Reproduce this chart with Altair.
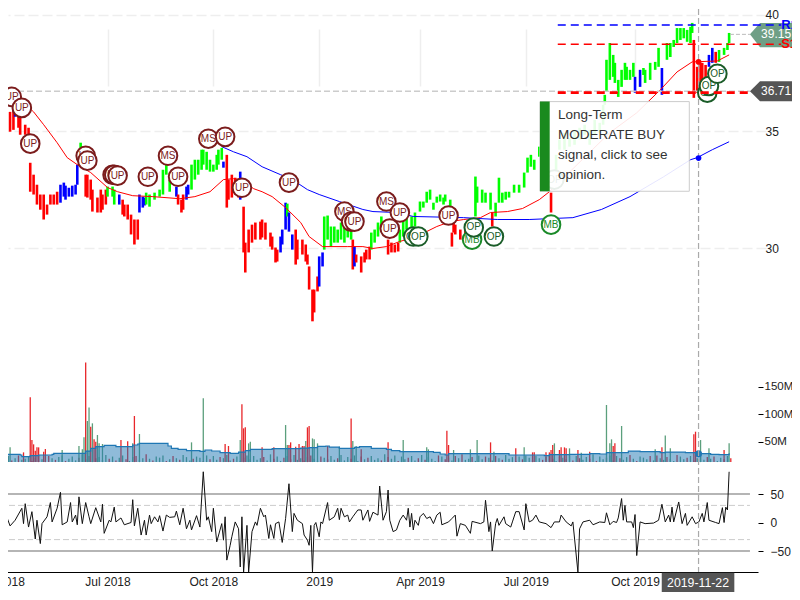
import altair as alt
import pandas as pd

FONT = "Liberation Sans"

# ---------- price bars: session, high, low, trend ----------
bar_rows = [
(1,35.7,34.85,"r"),(2,36.13,35.06,"r"),(4,35.83,35.06,"r"),(6,35.83,34.98,"r"),(8,35.92,35.06,"r"),(9,36.0,35.62,"b"),(11,36.35,35.15,"r"),(12,35.7,34.85,"r"),(15,35.28,34.85,"r"),(17,35.15,34.76,"r"),
(18,33.65,32.41,"r"),(20,33.14,32.29,"r"),(22,32.71,31.86,"r"),(24,32.29,31.64,"r"),(26,32.29,31.22,"r"),(28,31.86,31.43,"r"),(30,32.29,31.86,"r"),(32,32.29,31.86,"r"),(34,32.41,31.86,"r"),
(36,32.71,31.94,"b"),(38,32.8,32.2,"b"),(39,32.67,32.07,"b"),(41,32.58,32.2,"b"),(43,32.67,32.2,"b"),(45,32.71,32.29,"b"),(46,33.57,32.71,"b"),(48,34.51,33.65,"g"),
(51,33.14,32.2,"r"),(52,33.14,32.16,"r"),(54,32.93,32.07,"r"),(55,32.5,31.56,"r"),(58,32.16,31.52,"r"),(60,32.5,31.52,"r"),(61,32.29,31.64,"r"),(63,32.5,31.86,"r"),
(64,32.63,32.2,"g"),(67,32.63,32.2,"g"),(68,32.5,31.86,"g"),(71,32.29,31.86,"b"),
(73,32.07,31.43,"r"),(74,31.86,31.35,"r"),(76,31.86,31.22,"r"),(78,31.43,30.58,"r"),(80,31.22,30.15,"r"),(82,31.22,30.36,"r"),
(83,32.29,31.52,"b"),(85,32.2,31.73,"b"),(86,32.16,31.82,"b"),
(87,32.37,31.86,"g"),(89,32.29,31.77,"g"),(92,32.37,32.07,"g"),(95,32.5,32.2,"g"),(97,33.35,32.29,"g"),(99,33.57,33.14,"g"),(101,32.93,32.41,"g"),
(105,32.63,32.2,"b"),(106,32.29,31.86,"r"),(108,32.07,31.52,"r"),(109,32.29,31.64,"r"),(111,32.63,32.07,"b"),(112,32.71,32.29,"b"),
(114,33.57,32.5,"g"),(116,33.78,32.93,"g"),(118,33.78,33.14,"g"),(120,34.21,33.35,"g"),(121,34.21,33.57,"g"),(123,34.12,33.35,"g"),(125,33.78,33.27,"g"),(127,33.57,33.27,"g"),(129,33.99,33.35,"g"),(130,34.21,33.57,"g"),(132,34.29,33.78,"g"),
(133,33.7,33.44,"b"),(135,33.99,31.73,"r"),(136,32.93,32.07,"r"),(138,33.14,32.16,"r"),(140,33.01,32.29,"r"),(142,32.8,32.16,"r"),(143,33.27,32.07,"b"),
(145,31.77,29.81,"r"),(146,30.23,28.95,"r"),(148,30.79,29.81,"r"),(150,31.0,30.23,"r"),(152,31.09,30.36,"r"),(155,31.13,30.36,"r"),(156,31.22,30.45,"r"),(158,31.09,30.36,"r"),(161,30.66,30.06,"r"),(162,30.49,29.93,"r"),(164,30.02,29.38,"r"),(165,29.93,29.42,"r"),
(167,30.49,29.81,"b"),(168,30.79,30.15,"b"),(170,31.94,30.79,"b"),(171,31.9,31.35,"g"),(172,31.52,30.7,"b"),(174,30.58,29.93,"b"),
(176,30.79,29.29,"r"),(177,30.36,29.51,"r"),(180,30.36,29.72,"r"),(182,30.15,29.42,"r"),(183,29.72,29.29,"r"),(184,29.21,28.22,"r"),(186,28.22,26.86,"r"),(187,28.22,27.24,"r"),(189,28.78,28.14,"r"),
(190,29.64,28.35,"b"),(192,29.81,29.21,"b"),
(193,31.35,29.93,"g"),(195,31.39,30.36,"g"),(197,30.92,30.06,"g"),(199,30.92,30.23,"g"),(201,30.79,30.23,"g"),(203,31.09,30.36,"g"),(205,30.92,30.23,"g"),(207,30.79,30.45,"g"),(209,31.0,30.36,"g"),
(210,30.36,29.08,"r"),(211,30.06,29.21,"b"),(212,29.72,29.38,"r"),(215,29.64,28.95,"r"),(217,29.81,29.38,"r"),(218,29.93,29.51,"r"),(220,30.06,29.51,"r"),
(221,30.66,29.93,"g"),(223,30.79,30.23,"g"),(225,31.09,30.49,"g"),(227,31.35,30.79,"g"),
(231,30.36,29.72,"r"),(233,30.23,29.81,"r"),(235,30.15,29.81,"r"),(237,30.23,29.85,"r"),
(238,30.79,30.23,"g"),(240,31.22,30.49,"g"),(242,31.35,30.79,"g"),(245,31.35,30.79,"g"),(247,31.52,30.92,"g"),(250,31.99,31.56,"g"),(252,31.99,31.73,"g"),(254,32.41,31.94,"g"),(256,32.5,32.07,"g"),(258,31.94,31.64,"g"),(260,32.2,31.94,"g"),(262,32.29,31.99,"g"),(264,32.16,31.86,"g"),(265,32.29,31.99,"g"),(268,32.07,31.77,"g"),
(269,30.66,30.06,"r"),(270,31.09,30.66,"r"),(271,31.0,30.58,"r"),(274,30.79,30.36,"r"),(277,31.0,30.58,"r"),
(283,33.06,31.35,"g"),(284,32.63,31.94,"g"),(287,32.5,31.94,"g"),(289,32.37,31.94,"g"),(292,32.37,31.64,"g"),(293,31.52,30.92,"r"),(295,31.94,31.35,"g"),(297,33.01,31.94,"g"),(299,32.37,31.94,"g"),(301,32.41,32.07,"g"),(303,32.41,32.16,"g"),(306,32.71,32.37,"g"),(309,32.71,32.37,"g"),(312,33.23,32.59,"g"),(314,33.87,33.23,"g"),(316,33.99,33.48,"g"),(318,33.78,33.35,"g"),(321,34.34,33.91,"g"),(324,33.99,33.23,"g"),(326,34.21,33.35,"g"),(328,32.37,31.52,"r"),
(331,33.99,33.35,"g"),(333,34.64,34.21,"g"),(336,34.93,34.21,"g"),(339,34.72,34.34,"g"),(342,35.06,34.42,"g"),(345,35.15,34.64,"g"),(348,35.28,34.85,"g"),(351,35.06,34.42,"g"),(354,35.49,34.85,"g"),(357,35.36,34.94,"g"),(359,36.13,35.28,"g"),(360,36.56,36.13,"g"),(361,38.06,36.69,"g"),(363,38.78,37.2,"g"),(365,38.27,37.33,"g"),(366,37.93,37.07,"g"),(368,37.2,36.47,"g"),(370,37.63,36.9,"g"),(372,37.93,37.2,"g"),(373,37.76,37.2,"g"),(375,37.63,37.2,"g"),(377,37.93,37.33,"g"),
(378,37.33,36.65,"b"),(381,37.63,36.9,"b"),(383,37.71,37.41,"g"),(384,37.63,37.07,"g"),(387,37.93,37.2,"g"),(390,37.97,37.63,"g"),(392,38.57,37.76,"g"),(394,37.71,36.56,"b"),
(397,38.78,38.06,"g"),(399,38.78,38.18,"g"),(401,38.91,38.61,"g"),(403,39.42,38.78,"g"),(405,39.42,38.91,"g"),(407,39.42,38.98,"g"),(409,39.34,38.83,"g"),(411,39.47,38.78,"g"),(412,39.64,39.21,"g"),
(413,38.91,36.43,"r"),(415,37.76,36.65,"r"),(417,37.93,36.9,"r"),(418,37.93,36.77,"r"),(420,37.84,36.9,"r"),(422,38.27,37.76,"b"),(424,38.57,37.93,"b"),(426,38.4,37.93,"r"),(428,38.48,37.97,"g"),(431,38.57,38.27,"g"),(433,38.78,38.48,"g"),(434,39.21,38.78,"g"),
]
bar_s, bar_high, bar_low, bar_trend = map(list, zip(*bar_rows))

# ---------- moving averages ----------
ma50_rows = [(0,36.47),(12,36.35),(20,35.83),(26,35.28),(34,34.51),(40,33.87),(46,33.57),(54,33.23),(64,32.59),(70,32.41),(79,32.24),(91,32.2),(107,32.11),(116,32.2),(125,32.41),(133,32.93),(139,32.97),(143,32.93),(151,32.54),(156,32.41),(162,32.2),(170,31.73),(179,31.09),(184,30.49),(192,30.06),(207,30.06),(216,30.06),(222,29.98),(230,30.06),(238,30.28),(248,30.49),(260,30.92),(268,31.13),(276,31.22),(286,31.3),(292,31.52),(302,31.56),(311,31.69),(321,32.07),(327,32.41),(363,34.94),(379,35.79),(393,36.77),(403,37.54),(412,37.97),(427,38.01),(434,38.27)]
ma200_rows = [(132,34.34),(139,34.12),(147,33.91),(156,33.48),(167,33.14),(174,32.93),(183,32.5),(190,32.29),(202,31.99),(216,31.65),(222,31.56),(236,31.52),(246,31.35),(276,31.3),(296,31.22),(315,31.22),(341,31.3),(358,31.65),(375,32.2),(395,33.05),(411,33.78),(415,33.87),(424,34.21),(434,34.55)]

# ---------- signal markers ----------
sig_rows = [(2,36.47,"UP"),(7,36.47,"UP"),(13,36.0,"UP"),(18,34.47,"UP"),(51,33.95,"UP"),(52,33.74,"UP"),(67,33.14,"UP"),(68,33.14,"UP"),(70,33.1,"UP"),(88,33.05,"UP"),(100,33.95,"MS"),(106,33.05,"UP"),(124,34.68,"MS"),(134,34.76,"UP"),(144,32.58,"UP"),(172,32.8,"UP"),(205,31.56,"MS"),(209,31.13,"UP"),(211,31.13,"UP"),(230,31.99,"MS"),(238,31.52,"UP"),(232,30.83,"UP"),(267,31.39,"UP"),(246,30.49,"OP"),(249,30.49,"OP"),(281,30.36,"MB"),(282,30.88,"OP"),(294,30.49,"OP"),(330,32.93,"OP"),(328,31.0,"MB"),(421,36.65,"OP"),(422,36.94,"OP"),(427,37.46,"OP")]

# ---------- volume (millions) ----------
spike_rows = [(6,39.7,"g"),(14,30.6,"r"),(18,130.6,"r"),(19,53,"r"),(20,45.2,"r"),(21,33.7,"r"),(22,39.7,"r"),(23,39.7,"r"),(26,31.9,"r"),(27,36.7,"r"),(37,34.9,"g"),(47,42.2,"g"),(49,36.1,"g"),(50,57.9,"g"),(51,194,"r"),(52,87.6,"g"),(53,112.4,"g"),(54,77.3,"r"),(55,83.4,"g"),(56,54.3,"r"),(57,50,"r"),(58,62.2,"g"),(59,47,"g"),(61,45.8,"g"),(72,53,"r"),(76,50.6,"r"),(79,47,"g"),(80,96.7,"r"),(83,64,"g"),(114,48.8,"g"),(121,128.8,"g"),(134,45.8,"r"),(136,42.2,"r"),(143,53,"g"),(144,118,"r"),(145,74.3,"r"),(146,76.1,"r"),(148,47,"g"),(149,50,"g"),(156,39.7,"r"),(163,39.7,"r"),(170,80.3,"g"),(171,44,"g"),(172,44,"r"),(173,48.8,"r"),(176,41,"r"),(178,45.8,"r"),(180,42.2,"r"),(181,42.2,"r"),(182,51.2,"g"),(183,76.1,"r"),(184,78.5,"r"),(186,56,"g"),(187,54.3,"g"),(189,47,"g"),(195,42.2,"r"),(202,41,"g"),(209,92.4,"r"),(210,51.2,"g"),(212,42.2,"g"),(215,36.1,"r"),(231,48.8,"r"),(240,53,"g"),(254,39.7,"g"),(255,36.1,"g"),(266,70,"r"),(267,44,"r"),(270,34.9,"g"),(280,36.1,"g"),(284,53,"g"),(292,48.8,"r"),(294,31.9,"g"),(307,37.9,"r"),(312,39.7,"g"),(317,30.6,"r"),(318,30.6,"r"),(325,30.6,"r"),(327,30.6,"r"),(328,34.9,"r"),(329,44,"r"),(330,47,"g"),(333,34.9,"r"),(334,39.7,"r"),(336,39.7,"r"),(337,37.9,"r"),(339,37.9,"g"),(344,34.9,"r"),(346,30,"g"),(351,31.9,"r"),(361,116.7,"g"),(363,47,"g"),(364,54.3,"g"),(365,42.2,"r"),(366,47,"r"),(370,78.5,"g"),(390,36.1,"g"),(394,39.7,"r"),(396,61.5,"g"),(399,37.9,"g"),(413,63.4,"r"),(414,68.2,"r"),(417,53,"g"),(422,37.9,"g"),(431,34.9,"r"),(434,47,"g")]
low_v = [22,18,24,16,20,25,17,19,23,15,21,26,18,16,24,20,17,22,25,15,
         19,23,16,21,27,18,24,15,20,22,17,26,19,23,16,21,25,18,15,22,
         24,17,20,27,19,16,23,21,25,15,18,24,20,17,26,22,16,19,23,21,
         15,25,18,24,17,22,20,26,16,19,23,15,21,25,18,24,17,20,22,16,
         27,19,23,15,21,24,18,26,17,20,16,22,25,19,15,23,21,18,24,17,
         20,26,16,22,19,25,15,23,18,21,24,17,20,16,27,22,19,25,15,23,
         18,21,24,16,20,26,17,22,19,15,25,23,18,21,16,24,20,27,17,19,
         22,15,25,18,23,21,16,24,20,17,26,19,22,15,23,18,25,21,16,24,
         20,17,22,26,19,15,23,21,18,25,16,24,20,17,22,19,27,15,23,18,
         21,25,16,24,20,17,22,26,19,15,23,21,18,24,16,25,20,17,22,19,
         15,26,23,18,21,24,16,20,25,17,22,19,23,15,21,18,24,20]
low_dir = ("rggrgrgggrgrggrgrggrgggrggrgrgggrgrggrgg"
           "rggrgrgggrgrgrgggrggrgrggrgggrggrgrgggrg"
           "grggrgrgggrgrggrgrggrgggrggrgrgggrgrggrg"
           "grggrgrgggrgrggrgrggrgggrggrgrgggrgrggrg"
           "grggrgrgggrgrggrgrggrgggrggrgrgggrgrggrg"
           "grggrgrgggrgrggrgrgg")
volma_rows = [(0,27),(12,25.8),(13,22.8),(17,22.8),(18,24.6),(23,25.8),(31,27),(32,28.8),(49,28.8),(51,33),(54,37.9),(57,41),(62,43.4),(68,43.4),(69,41),(76,41),(79,44),(82,45.8),(83,47),(97,47),(100,42.2),(102,37.9),(106,36.1),(111,33.7),(119,32.5),(122,34.9),(126,33.1),(131,30),(137,28.8),(142,31.2),(146,33.7),(149,36.1),(161,36.1),(162,37.3),(169,37.3),(179,38.5),(184,39.1),(189,41.5),(194,42.2),(196,40.3),(202,37.9),(208,37.9),(211,39.7),(214,41),(221,37.9),(230,36.1),(233,33.7),(238,31.9),(258,30.6),(262,27.6),(265,25.8),(267,28.2),(298,28.2),(303,25.8),(318,25.8),(324,24.6),(327,26.4),(339,27),(351,28.2),(357,27.6),(361,30),(374,33),(381,31.9),(393,30),(396,31.2),(408,30),(414,28.2),(423,27),(428,26.4),(434,28.8)]

# ---------- oscillator ----------
osc_rows = [(0,1),(2,-28),(4,10),(6,-6),(9,4),(13,25),(14,-2),(15,33),(17,-8),(19,19),(21,-29),(22,4),(24,-37),(25,-2),(28,10),(30,35),(31,1),(34,25),(36,53),(37,-4),(40,1),(42,35),(43,1),(45,13),(46,-4),(47,45),(49,-2),(51,35),(53,10),(54,-2),(57,26),(60,1),(61,32),(62,-19),(65,4),(66,1),(68,27),(69,1),(72,8),(74,-4),(78,0),(79,40),(80,-6),(82,25),(84,-22),(86,4),(87,-22),(89,13),(90,-2),(92,10),(94,1),(95,12),(97,-15),(99,13),(101,9),(104,10),(105,20),(107,-4),(109,25),(111,-11),(113,4),(114,-13),(117,12),(119,-8),(121,89),(123,4),(124,10),(126,-16),(127,25),(129,-34),(132,-2),(133,-31),(134,10),(135,-66),(137,-40),(138,-25),(140,1),(142,-11),(143,-78),(144,10),(145,-87),(147,-5),(148,-87),(150,-16),(152,1),(153,-5),(155,25),(157,10),(158,13),(160,-28),(161,-4),(163,-28),(164,-2),(166,1),(168,-35),(170,7),(172,68),(174,-16),(175,16),(177,4),(180,-2),(181,-22),(183,-31),(184,-40),(185,-5),(186,-87),(187,-5),(188,0),(190,-25),(191,1),(192,-2),(195,35),(196,4),(199,10),(201,25),(202,5),(203,25),(205,10),(207,13),(208,1),(210,10),(213,22),(215,22),(216,4),(219,22),(220,2),(222,18),(225,13),(226,64),(228,4),(230,19),(231,57),(232,4),(234,-16),(236,-13),(238,4),(240,13),(242,4),(243,25),(244,-8),(245,16),(246,-13),(247,4),(249,-5),(250,10),(252,16),(254,7),(256,10),(258,-2),(260,13),(262,18),(263,-4),(267,1),(269,7),(271,13),(272,-24),(274,-2),(277,-5),(280,-19),(281,2),(286,-2),(288,1),(289,39),(291,-16),(292,1),(293,-50),(295,-2),(296,7),(297,-5),(300,10),(301,-2),(304,-8),(305,1),(307,19),(309,19),(312,-13),(313,33),(315,1),(317,4),(319,13),(321,1),(325,-2),(328,-9),(330,1),(333,1),(334,13),(337,1),(340,-6),(341,1),(344,-87),(345,-11),(347,1),(351,4),(353,-4),(357,1),(360,0),(361,17),(363,-4),(365,2),(367,0),(368,8),(370,42),(371,4),(372,30),(373,1),(376,1),(377,-9),(378,14),(379,-58),(381,1),(384,-2),(389,-1),(392,4),(394,32),(396,1),(398,13),(399,1),(400,27),(401,1),(404,36),(406,-2),(408,16),(409,-5),(412,10),(414,-2),(416,1),(418,16),(419,1),(421,35),(422,4),(426,0),(428,-2),(430,26),(431,0),(432,27),(433,22),(434,89)]

# ---------- texts, levels, ticks ----------
quarter_s = [0,64,127,190,250,313,378]
quarter_t = ["Apr 2018","Jul 2018","Oct 2018","2019","Apr 2019","Jul 2019","Oct 2019"]
advice_lines = ["Long-Term","MODERATE BUY","signal, click to see","opinion."]
price_ticks = [30,35,40]
vol_ticks = [50,100,150]
osc_ticks = [-50,0,50]
cursor_s = 415.8
last_close = 39.15
ref_close = 36.71
res_level = 39.55
sup_level = 38.73
sup2_level = 36.65
VOL_FLOOR = 13

RED, GREEN, BLUE = "#ff0000", "#00ff00", "#0000ff"
MAROON = "#7b1c1c"

X_SCALE = alt.Scale(domain=[0, 451.19], range=[-8, 750], nice=False, zero=False)
P_SCALE = alt.Scale(domain=[30, 40], range=[240, 6.5], nice=False, zero=False)
V_SCALE = alt.Scale(domain=[50, 150], range=[433.7, 378.7], nice=False, zero=False)
O_SCALE = alt.Scale(domain=[-50, 50], range=[543, 486], nice=False, zero=False)

label_expr = " : ".join(f"datum.value == {s} ? '{t}'" for s, t in zip(quarter_s, quarter_t)) + " : ''"
x_axis = alt.Axis(values=quarter_s, labelExpr=label_expr, grid=True, gridColor="#eeeeee", gridWidth=1.5,
                  ticks=False, domain=True, domainColor="#000000", domainWidth=1.2, labelFontSize=12,
                  labelColor="#222222", labelFont=FONT, labelPadding=4, labelOverlap=False, labelFlush=False,
                  labelBound=False)
vol_axis = alt.Axis(orient="right", values=vol_ticks, labelExpr="datum.value + 'M'", grid=False, domain=False,
                    tickSize=5, tickColor="#000000", labelFontSize=11.5, labelColor="#222222", labelFont=FONT,
                    labelPadding=1)
osc_axis = alt.Axis(orient="right", values=osc_ticks, grid=False, domain=False, tickSize=5, tickColor="#000000",
                    labelFontSize=12, labelColor="#222222", labelFont=FONT, labelPadding=7)
price_axis = alt.Axis(orient="right", values=price_ticks, grid=True, gridColor="#eeeeee", gridWidth=1.5,
                      gridDash=[10, 4], domain=False, ticks=False, labelFontSize=12, labelColor="#222222",
                      labelFont=FONT, labelPadding=7)


def X(f="s"):
    return alt.X(f"{f}:Q", scale=X_SCALE, axis=x_axis, title=None)


def PY(f="v"):
    return alt.Y(f"{f}:Q", scale=P_SCALE, axis=price_axis, title=None)


def VY(f="v"):
    return alt.Y(f"{f}:Q", scale=V_SCALE, axis=vol_axis, title=None)


def OY(f="v"):
    return alt.Y(f"{f}:Q", scale=O_SCALE, axis=osc_axis, title=None)


# --- volume panel ---
spikes = pd.DataFrame(spike_rows, columns=["s", "v", "d"])
spikes["b"] = VOL_FLOOR
lows = pd.DataFrame([(s, v, d, VOL_FLOOR) for s, v, d in zip(range(1, 436, 2), low_v, low_dir)],
                    columns=["s", "v", "d", "b"])
vol_bars = pd.concat([lows, spikes])
vol_color = alt.Color("d:N", scale=alt.Scale(domain=["r", "g"], range=["#e8262a", "#5b9f7c"]), legend=None)
vol_rules = alt.Chart(vol_bars).mark_rule(strokeWidth=1.3).encode(
    x=X(), y=VY(), y2="b:Q", color=vol_color)
volma = pd.DataFrame(volma_rows, columns=["s", "v"])
volma["b"] = VOL_FLOOR
vol_area = alt.Chart(volma).mark_area(color="#1f77b4", opacity=0.5, interpolate="step-after").encode(
    x=X(), y=VY(), y2="b:Q")
vol_line = alt.Chart(volma).mark_line(color="#1f77b4", strokeWidth=1.2, interpolate="step-after").encode(
    x=X(), y=VY())
vol_dot = alt.Chart(pd.DataFrame({"s": [cursor_s], "v": [28.2]})).mark_circle(color="#1f77b4", size=50, opacity=1).encode(
    x=X(), y=VY())
vol_panel = alt.layer(vol_rules, vol_area, vol_line, vol_dot)

# --- oscillator panel ---
solid_lvl = alt.Chart(pd.DataFrame({"v": [50, -50], "s": 0, "e": 446.4})).mark_rule(color="#b5b5b5", strokeWidth=1.8).encode(
    x=X(), x2="e:Q", y=OY())
dash_lvl = alt.Chart(pd.DataFrame({"v": [30, -30], "s": 0, "e": 446.4})).mark_rule(
    color="#cccccc", strokeWidth=1, strokeDash=[6, 3]).encode(x=X(), x2="e:Q", y=OY())
osc_line = alt.Chart(pd.DataFrame(osc_rows, columns=["s", "v"])).mark_line(color="#111111", strokeWidth=1).encode(
    x=X(), y=OY())
date_box = alt.Chart(pd.DataFrame({"s": [393.9], "e": [437.1], "v": [-88], "w": [-124]})).mark_rect(color="#555555").encode(
    x=X(), x2="e:Q", y=OY(), y2="w:Q")
date_txt = alt.Chart(pd.DataFrame({"s": [415.5], "v": [-106], "t": ["2019-11-22"]})).mark_text(
    color="#ffffff", fontSize=12.3, font=FONT, baseline="middle").encode(x=X(), y=OY(), text="t:N")
osc_panel = alt.layer(solid_lvl, dash_lvl, osc_line, date_box, date_txt)

# --- price panel ---
bars = pd.DataFrame({"s": bar_s, "hi": bar_high, "lo": bar_low, "d": bar_trend})
price_bars = alt.Chart(bars).mark_rule(strokeWidth=2.6).encode(
    x=X(), y=PY("hi"), y2="lo:Q",
    color=alt.Color("d:N", scale=alt.Scale(domain=["r", "g", "b"], range=[RED, GREEN, BLUE]), legend=None))
ma50 = alt.Chart(pd.DataFrame(ma50_rows, columns=["s", "v"])).mark_line(color=RED, strokeWidth=1).encode(x=X(), y=PY())
ma200 = alt.Chart(pd.DataFrame(ma200_rows, columns=["s", "v"])).mark_line(color=BLUE, strokeWidth=1).encode(x=X(), y=PY())
ref_dash = alt.Chart(pd.DataFrame({"v": [ref_close], "s": 0, "e": 446.4})).mark_rule(
    color="#cccccc", strokeWidth=1.5, strokeDash=[6, 3]).encode(x=X(), x2="e:Q", y=PY())
last_dash = alt.Chart(pd.DataFrame({"v": [last_close], "s": 434.5, "e": 446.4})).mark_rule(
    color="#bbbbbb", strokeWidth=1, strokeDash=[4, 2]).encode(x=X(), x2="e:Q", y=PY())
cursor = alt.Chart(pd.DataFrame({"s": [cursor_s]})).mark_rule(color="#aaaaaa", strokeWidth=1.2, strokeDash=[6, 3]).encode(
    x=X(), y=alt.value(-8), y2=alt.value(564))
dot_red = alt.Chart(pd.DataFrame({"s": [cursor_s], "v": [37.97]})).mark_circle(size=32, opacity=1, color=RED).encode(x=X(), y=PY())
dot_blue = alt.Chart(pd.DataFrame({"s": [cursor_s], "v": [33.85]})).mark_circle(size=32, opacity=1, color=BLUE).encode(x=X(), y=PY())


def tag(price, top, bottom, fill):
    poly = pd.DataFrame({"s": [446.4, 452.4, 476.2], "top": [price, top, top], "bot": [price, bottom, bottom]})
    return alt.Chart(poly).mark_area(color=fill, opacity=1).encode(x=X(), y=PY("top"), y2="bot:Q")


def value_text(price, fill="#ffffff"):
    return alt.Chart(pd.DataFrame({"s": [453], "v": [price], "t": [f"{price:.2f}"]})).mark_text(
        color=fill, fontSize=12, font=FONT, align="left", baseline="middle").encode(x=X(), y=PY(), text="t:N")


def level(price, color, width, end, dash=(8, 5)):
    return alt.Chart(pd.DataFrame({"v": [price], "s": 332, "e": end})).mark_rule(
        color=color, strokeWidth=width, strokeDash=list(dash)).encode(x=X(), x2="e:Q", y=PY())


marker_layers = []
for s, v, t in sig_rows:
    col = MAROON if t in ("UP", "MS") else ("#1a8a28" if t == "MB" else "#1a5c28")
    row = pd.DataFrame({"s": [s], "v": [v], "t": [t]})
    marker_layers.append(alt.Chart(row).mark_circle(size=346, fill="#ffffff", stroke=col, strokeWidth=2, opacity=1).encode(
        x=X(), y=PY()))
    marker_layers.append(alt.Chart(row).mark_text(color=col, fontSize=10, font=FONT, baseline="middle").encode(
        x=X(), y=PY(), text="t:N"))

panel_box = alt.Chart(pd.DataFrame({"s": [321.4], "e": [410.3], "v": [36.27], "w": [32.43]})).mark_rect(
    fill="#ffffff", fillOpacity=0.9, stroke="#cccccc", strokeWidth=1).encode(x=X(), x2="e:Q", y=PY(), y2="w:Q")
panel_band = alt.Chart(pd.DataFrame({"s": [321.4], "e": [327.2], "v": [36.27], "w": [32.43]})).mark_rect(
    color="#1a8a1e").encode(x=X(), x2="e:Q", y=PY(), y2="w:Q")
panel_text = alt.Chart(pd.DataFrame({"s": [332.1] * 4, "v": [35.7, 34.85, 34.0, 33.12], "t": advice_lines})).mark_text(
    color="#333333", fontSize=13.5, font=FONT, align="left", baseline="middle").encode(x=X(), y=PY(), text="t:N")

tag_r = alt.Chart(pd.DataFrame({"s": [465], "v": [39.55], "t": ["R1"]})).mark_text(
    color=BLUE, fontSize=13, fontWeight="bold", font=FONT, align="left", baseline="middle").encode(x=X(), y=PY(), text="t:N")
tag_s = alt.Chart(pd.DataFrame({"s": [465], "v": [38.75], "t": ["S1"]})).mark_text(
    color=RED, fontSize=13, fontWeight="bold", font=FONT, align="left", baseline="middle").encode(x=X(), y=PY(), text="t:N")

price_panel = alt.layer(
    price_bars, ma50, ma200, ref_dash, last_dash, cursor, dot_red, dot_blue,
    *marker_layers,
    panel_box, panel_band, panel_text,
    tag(last_close, 39.64, 38.6, "#6f9f86"), tag(ref_close, 37.14, 36.28, "#555555"),
    value_text(last_close), value_text(ref_close),
    level(res_level, BLUE, 1.5, 465), level(sup_level, RED, 1.5, 465), level(sup2_level, RED, 2.8, 446.4),
    tag_r, tag_s,
)

chart = alt.layer(
    osc_panel, vol_panel, price_panel
).resolve_scale(y="independent", color="independent").properties(
    width=750, height=564,
    padding={"left": 0, "top": 0, "right": 34, "bottom": 20},
    autosize=alt.AutoSizeParams(type="none"),
    background="#ffffff",
).configure_view(stroke=None)

chart.save("out.html", embed_options={"renderer": "svg", "actions": False})
